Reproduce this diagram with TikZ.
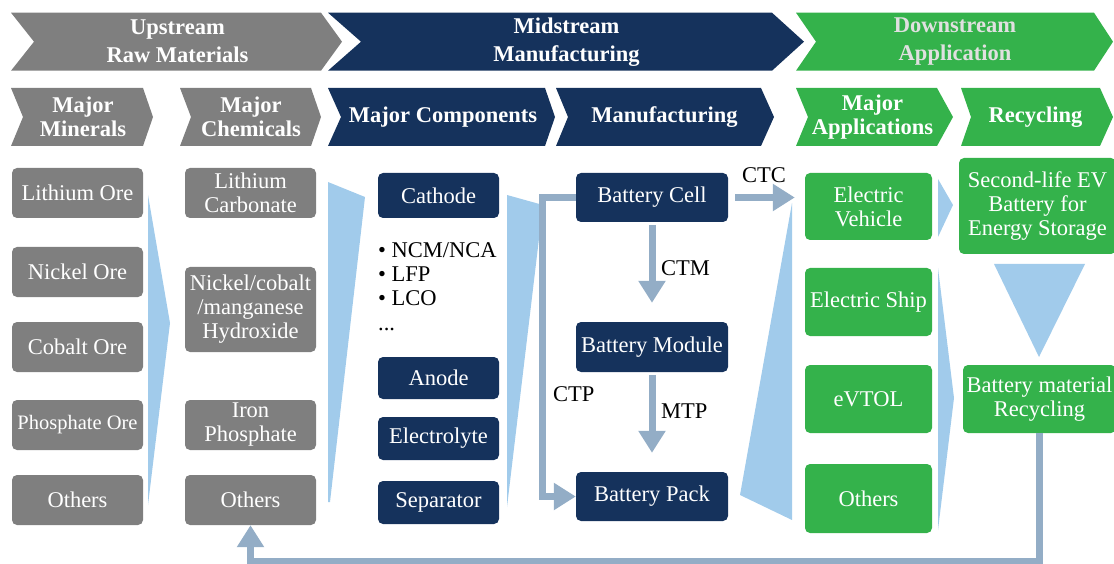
\documentclass[tikz,border=0pt]{standalone}
\usepackage{fontspec}
\setmainfont{Liberation Serif}
\usetikzlibrary{arrows.meta}
\definecolor{cgray}{HTML}{7F7F7F}
\definecolor{cnavy}{HTML}{15325C}
\definecolor{cgreen}{HTML}{34B24B}
\definecolor{clblue}{HTML}{A1CBEB}
\definecolor{carrow}{HTML}{93ADC6}
\newcommand\myfs{\fontsize{22.5}{24}\selectfont}
\newcommand\myhfs{\fontsize{22.5}{28}\selectfont\bfseries}
\newcommand\myhfsb{\fontsize{22.5}{24}\selectfont\bfseries}
\tikzset{
 box/.style={rounded corners=5pt, inner sep=0pt, text=white, align=center, font=\myfs},
 gbox/.style={box, fill=cgray},
 nbox/.style={box, fill=cnavy},
 ebox/.style={box, fill=cgreen},
 hdr/.style={text=white, align=center, font=\myhfs, inner sep=0pt},
 hdrg/.style={hdr, text=white!88!black},
 hdrb/.style={text=white, align=center, font=\myhfsb, inner sep=0pt},
 funnel/.style={fill=clblue},
 conn/.style={draw=carrow, line width=7pt, -{Triangle[width=26pt,length=22pt]}},
 lbl/.style={anchor=base west, font=\myfs, inner sep=0pt, text=black},
}
% name, style, x1, y1, x2, y2, text
\newcommand\bx[7]{\node[#2, minimum width={(#5-#3)*1pt}, minimum height={(#6-#4)*1pt}] (#1) at ({(#3+#5)/2},{(#4+#6)/2}) {#7};}
% style, color, xl, notch, xr, tip, yt, yb, text
\newcommand\chev[9]{\fill[#2] (#3,#7) -- (#5,#7) -- (#6,{(#7+#8)/2}) -- (#5,#8) -- (#3,#8) -- (#4,{(#7+#8)/2}) -- cycle;
\node[#1] at ({(#4+#5)/2},{(#7+#8)/2}) {#9};}
\begin{document}
\begin{tikzpicture}[x=1pt,y=-1pt]
\useasboundingbox (0,0) rectangle (1114,564);
% header row 1
\chev{hdr}{cgray}{11}{34}{321}{342}{12.7}{70.7}{Upstream\\Raw Materials}
\chev{hdr}{cnavy}{328}{361}{772}{804}{12.7}{70.7}{Midstream\\Manufacturing}
\chev{hdrg}{cgreen}{796}{816}{1094}{1113}{12.7}{70.7}{Downstream\\Application}
% header row 2
\chev{hdrb}{cgray}{11}{23}{143}{153}{88}{146}{Major\\Minerals}
\chev{hdrb}{cgray}{180}{191}{311}{321}{88}{146}{Major\\Chemicals}
\chev{hdrb}{cnavy}{328}{341}{545}{555}{88}{146}{Major Components}
\chev{hdrb}{cnavy}{556}{568}{761}{774}{88}{146}{Manufacturing}
\chev{hdrb}{cgreen}{796}{808}{937}{953}{88}{146}{Major\\Applications}
\chev{hdrb}{cgreen}{961}{971}{1100}{1113}{88}{146}{Recycling}
% funnels
\fill[funnel] (148,195) -- (170,323) -- (148,505) -- cycle;
\fill[funnel] (328,182) -- (365,197) -- (330,502) -- (328,502) -- cycle;
\fill[funnel] (507,195) -- (543,205) -- (507,507) -- cycle;
\fill[funnel] (792,203) -- (792,520) -- (740,495) -- cycle;
\fill[funnel] (938,179) -- (953,205) -- (938,237) -- cycle;
\fill[funnel] (938,268) -- (954,398) -- (938,530) -- cycle;
\fill[funnel] (994,264) -- (1085,264) -- (1039,357) -- cycle;
% minerals
\bx{lore}{gbox}{12}{168}{143}{218}{Lithium Ore}
\bx{nore}{gbox}{12}{247}{143}{297}{Nickel Ore}
\bx{core}{gbox}{12}{322}{143}{372}{Cobalt Ore}
\bx{pore}{gbox,font=\fontsize{20.5}{24}\selectfont}{12}{400}{143}{450}{Phosphate Ore}
\bx{mo}{gbox}{12}{475}{143}{525}{Others}
% chemicals
\bx{lc}{gbox}{185}{168}{316}{218}{Lithium\\Carbonate}
\bx{nh}{gbox}{185}{267}{316}{352}{Nickel/cobalt\\/manganese\\Hydroxide}
\bx{ip}{gbox}{185}{400}{316}{450}{Iron\\Phosphate}
\bx{co}{gbox}{185}{475}{316}{525}{Others}
% components
\bx{cath}{nbox}{378}{173}{499}{218}{Cathode}
\node[lbl] (b1) at (378,257.5) {• NCM/NCA};
\node[lbl] (b2) at (378,281.5) {• LFP};
\node[lbl] (b3) at (378,305.5) {• LCO};
\node[lbl] (b4) at (378,330) {...};
\bx{anode}{nbox}{378}{357}{499}{399}{Anode}
\bx{elec}{nbox}{378}{417}{499}{460}{Electrolyte}
\bx{sep}{nbox}{378}{481}{499}{524}{Separator}
% manufacturing
\bx{cell}{nbox}{576}{173}{728}{222}{Battery Cell}
\bx{module}{nbox}{576}{322}{728}{372}{Battery Module}
\bx{pack}{nbox}{576}{472}{728}{521}{Battery Pack}
% applications
\bx{ev}{ebox}{805}{173}{932}{240}{Electric\\Vehicle}
\bx{ship}{ebox}{805}{268}{932}{336}{Electric Ship}
\bx{evtol}{ebox}{805}{365}{932}{433}{eVTOL}
\bx{ao}{ebox}{805}{464}{932}{533}{Others}
% recycling
\bx{second}{ebox}{959}{158}{1116}{254}{Second-life EV\\Battery for\\Energy Storage}
\bx{recyc}{ebox}{963}{365}{1116}{433}{Battery material\\Recycling}
% connectors
\draw[conn, shorten <=3pt, shorten >=19pt] (cell) -- (module);
\draw[conn, shorten <=3pt, shorten >=19pt] (module) -- (pack);
\draw[conn] (cell.west) -- ++(-33,0) |- (pack.west);
\draw[conn, shorten <=7pt, shorten >=10pt] (cell.east) -- (cell.east -| ev.west);
\draw[conn] (recyc.south) -- ++(0,128) -| (co.south);
% labels
\node[lbl] (ctm) at (661,276) {CTM};
\node[lbl] (mtp) at (661,418) {MTP};
\node[lbl] (ctp) at (553,401) {CTP};
\node[lbl] (ctc) at (742,183) {CTC};
\end{tikzpicture}
\end{document}
